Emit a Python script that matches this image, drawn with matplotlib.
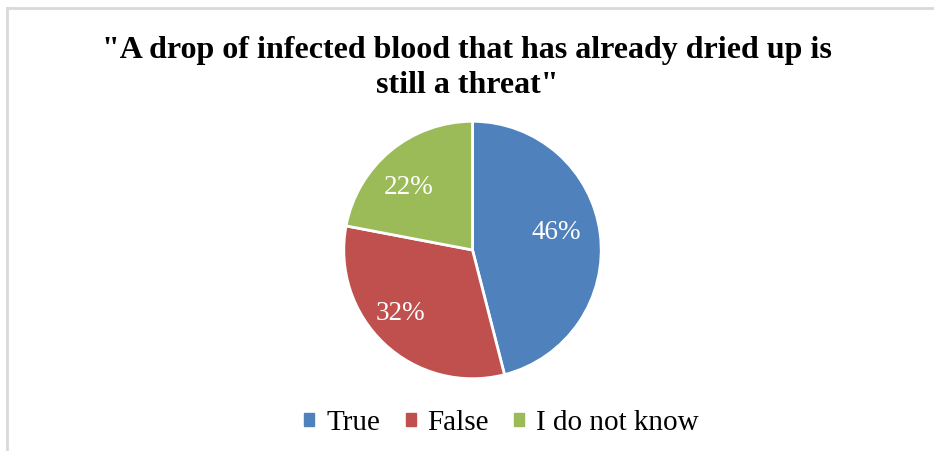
import matplotlib
matplotlib.use("Agg")
import matplotlib.pyplot as plt
from matplotlib.lines import Line2D
from matplotlib.patches import Patch

title = '"A drop of infected blood that has already dried up is\nstill a threat"'
categories = ["True", "False", "I do not know"]
values = [46, 32, 22]
colors = ["#4F81BD", "#C0504D", "#9BBB59"]

plt.rcParams['font.family'] = ['Liberation Serif', 'DejaVu Serif']

fig = plt.figure(figsize=(9.34, 4.51), dpi=100)

# pie axes
cx, cy, r = 472.5 / 934, 1 - 250 / 451, 130
ax = fig.add_axes([cx - r / 934, cy - r / 451, 2 * r / 934, 2 * r / 451])
wedges, texts, autotexts = ax.pie(
    values, colors=colors, startangle=90, counterclock=False,
    autopct=lambda p: f"{p:.0f}%", pctdistance=0.7,
    wedgeprops=dict(edgecolor="white", linewidth=2),
    textprops=dict(color="white", fontsize=19.5))
# small label nudges (data units) to mimic the original label placement
nudges = [(-0.04, 0.05), (-0.077, 0.014), (-0.05, -0.057)]
for t, (dx, dy) in zip(autotexts, nudges):
    x, y = t.get_position()
    t.set_position((x + dx, y + dy))
ax.set_aspect("equal")
ax.set_xlim(-1.01, 1.01)
ax.set_ylim(-1.01, 1.01)

fig.text(0.5, 1 - 68 / 451, title, ha="center", va="center",
         fontsize=23, fontweight="bold", linespacing=1.25)

handles = [Patch(facecolor=c, edgecolor=c) for c in colors]
fig.legend(handles, categories, loc="center", bbox_to_anchor=(501.5 / 934, 1 - 423 / 451),
           ncol=3, frameon=False, fontsize=21, handlelength=0.34, handleheight=0.34,
           handletextpad=0.4, columnspacing=0.88)

# frame lines (top and left)
fig.add_artist(Line2D([7 / 934, 1], [1 - 7.5 / 451, 1 - 7.5 / 451], color="#D9D9D9", lw=2))
fig.add_artist(Line2D([7 / 934, 7 / 934], [0, 1 - 7.5 / 451], color="#D9D9D9", lw=2))

fig.savefig("out.png", dpi=100)
